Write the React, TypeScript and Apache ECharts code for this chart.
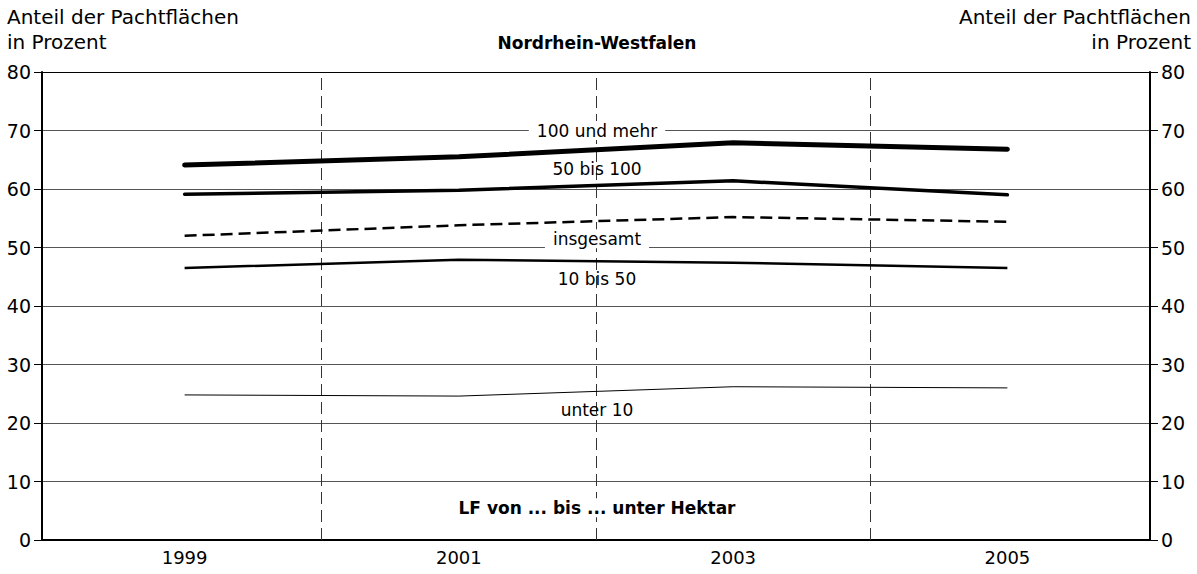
import React, { useEffect, useRef } from "react";
import * as echarts from "echarts";

const years = [1999, 2001, 2003, 2005];
const dividers = [2000, 2002, 2004];
const s100 = [64.1, 65.5, 67.9, 66.8];
const s50 = [59.1, 59.8, 61.4, 59.0];
const sAll = [52.0, 53.8, 55.2, 54.4];
const s10 = [46.5, 47.9, 47.4, 46.5];
const sU10 = [24.8, 24.6, 26.2, 26.0];

const FONT = "'DejaVu Sans', sans-serif";

export default function App() {
  const ref = useRef<HTMLDivElement>(null);
  useEffect(() => {
    if (!ref.current) return;
    const chart = echarts.init(ref.current, null, { renderer: "svg" });
    const gridLeft = 42;
    const gridRight = 47;
    const gridTop = 72;
    const gridBottom = 34;
    const W = 1197;
    const H = 574;
    const cx = 597;
    const yPix = (v: number) => gridTop + ((80 - v) / 80) * (H - gridTop - gridBottom);
    const label = (text: string, v: number, bold = false, bg = true) => ({
      type: "text",
      x: cx,
      y: yPix(v),
      z: 100,
      style: {
        text,
        fill: "#000",
        font: `${bold ? "bold " : ""}17px ${FONT}`,
        align: "center",
        verticalAlign: "middle",
        backgroundColor: bg ? "#fff" : undefined,
        padding: [1, 8, 1, 8],
      },
    });
    const axisLabelStyle = { color: "#000", fontSize: 19, fontFamily: FONT };
    const yAxisBase = {
      type: "value",
      min: 0,
      max: 80,
      interval: 10,
      axisLine: { show: true, lineStyle: { color: "#000", width: 2 } },
      axisTick: { show: true, length: 8, lineStyle: { color: "#000", width: 1 } },
      axisLabel: { ...axisLabelStyle, margin: 11 },
    };
    const toPairs = (arr: number[]) => arr.map((v, i) => [years[i], v]);
    const lineSeries = (name: string, arr: number[], lineStyle: any, extra: any = {}) => ({
      name,
      type: "line",
      data: toPairs(arr),
      symbol: "none",
      lineStyle: { color: "#000", ...lineStyle },
      z: 5,
      ...extra,
    });
    chart.setOption({
      animation: false,
      grid: { left: gridLeft, right: gridRight, top: gridTop, bottom: gridBottom },
      xAxis: [
        {
          type: "value",
          min: 1997.96,
          max: 2006.04,
          axisLine: { show: true, onZero: false, lineStyle: { color: "#000", width: 2 } },
          axisTick: { show: false },
          axisLabel: {
            ...axisLabelStyle,
            fontSize: 18,
            margin: 8,
            customValues: years,
            formatter: (v: number) => String(v),
          },
          splitLine: { show: false },
        },
        {
          type: "value",
          position: "top",
          min: 1997.96,
          max: 2006.04,
          axisLine: { show: true, onZero: false, lineStyle: { color: "#000", width: 1 } },
          axisTick: { show: false },
          axisLabel: { show: false },
          splitLine: { show: false },
        },
      ],
      yAxis: [
        {
          ...yAxisBase,
          position: "left",
          splitLine: { show: true, lineStyle: { color: "#555", width: 1 } },
        },
        {
          ...yAxisBase,
          position: "right",
          splitLine: { show: false },
        },
      ],
      series: [
        lineSeries("100 und mehr", s100, { width: 5, cap: "round" }),
        lineSeries("50 bis 100", s50, { width: 3.5, cap: "round" }),
        lineSeries("insgesamt", sAll, { width: 2.5, type: [12, 6] }),
        lineSeries("10 bis 50", s10, { width: 2.5 }),
        lineSeries("unter 10", sU10, { width: 1 }, {
          markLine: {
            silent: true,
            symbol: "none",
            label: { show: false },
            lineStyle: { color: "#333", width: 1, type: [12, 6] },
            data: dividers.map((d) => ({ xAxis: d })),
            z: 1,
          },
        }),
      ],
      graphic: [
        {
          type: "text",
          x: 7,
          y: 4,
          style: {
            text: "Anteil der Pachtflächen\nin Prozent",
            fill: "#000",
            font: `20px ${FONT}`,
            lineHeight: 25,
          },
        },
        {
          type: "text",
          x: W - 6,
          y: 4,
          style: {
            text: "Anteil der Pachtflächen\nin Prozent",
            fill: "#000",
            font: `20px ${FONT}`,
            lineHeight: 25,
            align: "right",
          },
        },
        {
          type: "text",
          x: cx,
          y: 43,
          style: {
            text: "Nordrhein-Westfalen",
            fill: "#000",
            font: `bold 17px ${FONT}`,
            align: "center",
            verticalAlign: "middle",
          },
        },
        label("100 und mehr", 70),
        label("50 bis 100", 63.4, false, false),
        label("insgesamt", 51.5),
        label("10 bis 50", 44.7, false, false),
        label("unter 10", 22.3, false, false),
        label("LF von ... bis ... unter Hektar", 5.5, true),
      ],
    });
    return () => chart.dispose();
  }, []);
  return <div ref={ref} style={{ width: 1197, height: 574, position: "absolute", left: 0, top: 0 }} />;
}
